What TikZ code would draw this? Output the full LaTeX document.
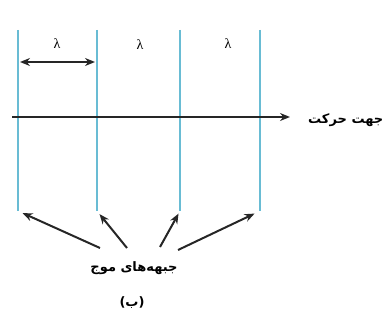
\documentclass[tikz,border=0pt]{standalone}
\usepackage{fontspec}
\usetikzlibrary{arrows.meta}
\TeXXeTstate=1
\newfontfamily\arabicfont[Script=Arabic]{DejaVu Sans}
\newfontfamily\greekfont{Liberation Serif}
\definecolor{frontblue}{RGB}{105,188,212}
\definecolor{arrowdark}{RGB}{38,38,38}
\tikzset{
    front/.style={frontblue, line width=2pt},
    pointer/.style={->, arrowdark, line width=2pt},
    fatext/.style={font=\arabicfont\bfseries\fontsize{13}{15}\selectfont, inner sep=0pt},
    wavelen/.style={font=\greekfont\fontsize{14}{16}\selectfont}
}

\begin{document}
\begin{tikzpicture}[x=1pt, y=-1pt, >={Stealth[length=10pt, width=8pt]}]
    \useasboundingbox (0,0) rectangle (389,323);
    % wave fronts
    \foreach \i/\x in {1/18, 2/97, 3/180, 4/260} {
        \coordinate (top\i) at (\x,30);
        \coordinate (bot\i) at (\x,211);
        \draw[front] (top\i) -- (bot\i);
    }
    % wavelengths
    \node[wavelen] (lam1) at (57,44) {λ};
    \node[wavelen] (lam2) at (140,45) {λ};
    \node[wavelen] (lam3) at (228,44) {λ};
    \coordinate (wl) at (20,62);
    \coordinate (wr) at (95,62);
    \draw[<->, arrowdark, line width=2pt] (wl) -- (wr);
    % direction of motion
    \node[fatext, anchor=west] (dir) at (308,120) {\beginR جهت حرکت\endR};
    \coordinate (axstart) at (12,117);
    \coordinate (axend) at (290,117);
    \draw[pointer] (axstart) -- (axend);
    % label of the fronts
    \node[fatext] (fronts) at (134,268) {\beginR جبهه‌های موج\endR};
    \coordinate (p1) at (100,248);
    \coordinate (p2) at (127,248);
    \coordinate (p3) at (160,247);
    \coordinate (p4) at (178,250);
    \draw[pointer, shorten >=5pt] (p1) -- (bot1);
    \draw[pointer, shorten >=4pt] (p2) -- (bot2);
    \draw[pointer, shorten >=3pt] (p3) -- (bot3);
    \draw[pointer, shorten >=6pt] (p4) -- (bot4);
    % caption
    \node[fatext] (cap) at (132,303) {(ب)};
\end{tikzpicture}
\end{document}
